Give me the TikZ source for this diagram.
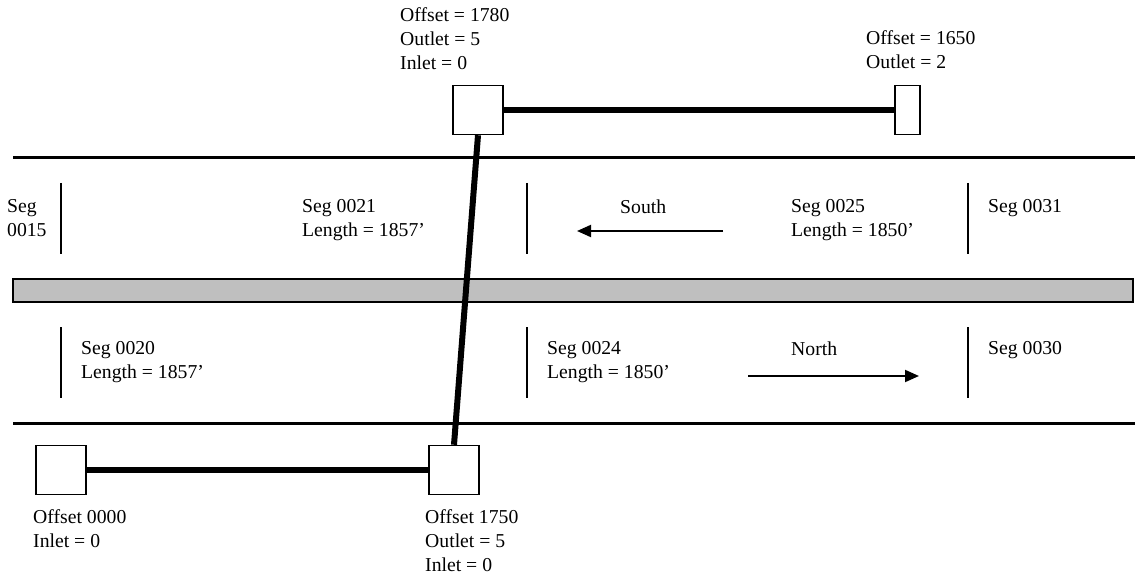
\documentclass[tikz,border=0pt]{standalone}
\usepackage{fontspec}
\setmainfont{Liberation Serif}
\usetikzlibrary{arrows.meta,calc,positioning}

\begin{document}
\begin{tikzpicture}[x=1pt,y=-1pt,
  font=\fontsize{19.7}{24}\selectfont,
  mhole/.style={draw,line width=1.5pt,fill=white,minimum width=50pt,minimum height=49pt,inner sep=0pt},
  mholenarrow/.style={mhole,minimum width=25pt},
  pipe/.style={line width=6pt},
  curb/.style={line width=3pt},
  segtick/.style={line width=1.4pt},
  lbl/.style={anchor=north west,align=left,inner sep=0pt},
  dir/.style={line width=2pt,-{Triangle[length=14pt,width=12pt]}}
]
  \useasboundingbox (0,0) rectangle (1135,577);

  % road
  \draw[curb] (13,158) -- (1135,158);
  \draw[curb] (13,423) -- (1135,423);
  \draw[line width=1.3pt,fill=black!25] (13,279) rectangle (1133,302);
  \foreach \x in {61,527,968} {
    \draw[segtick] (\x,183) -- (\x,254);
    \draw[segtick] (\x,327) -- (\x,398);
  }

  % segment labels
  \node[lbl] (seg15) at (7,199.5) {Seg\\0015};
  \node[lbl] (seg21) at (302,199.5) {Seg 0021\\Length = 1857’};
  \node[lbl] (south) at (620,199.5) {South};
  \node[lbl] (seg25) at (791,199.5) {Seg 0025\\Length = 1850’};
  \node[lbl] (seg31) at (988,199.5) {Seg 0031};
  \node[lbl] (seg20) at (81,341.5) {Seg 0020\\Length = 1857’};
  \node[lbl] (seg24) at (547,341.5) {Seg 0024\\Length = 1850’};
  \node[lbl] (north) at (791,341.5) {North};
  \node[lbl] (seg30) at (988,341.5) {Seg 0030};

  \coordinate (sbeg) at (723,231);
  \coordinate (send) at (577,231);
  \coordinate (nbeg) at (748,376);
  \coordinate (nend) at (919,376);
  \draw[dir] (sbeg) -- (send);
  \draw[dir] (nbeg) -- (nend);

  % manholes and pipes
  \node[mhole] (mh1780) at (478,110) {};
  \node[mholenarrow] (mh1650) at (907.5,110) {};
  \node[mhole] (mh0000) at (61,470) {};
  \node[mhole] (mh1750) at (454,470) {};

  \draw[pipe] (mh1780) -- (mh1650);
  \draw[pipe] (mh0000) -- (mh1750);
  \draw[pipe] (mh1780.south) -- (mh1750.north);

  \node[lbl] (t1780) at (400,7.5) {Offset = 1780\\Outlet = 5\\Inlet = 0};
  \node[lbl] (t1650) at (866,30.5) {Offset = 1650\\Outlet = 2};
  \node[lbl] (t0000) at (33,509.5) {Offset 0000\\Inlet = 0};
  \node[lbl] (t1750) at (425,509.5) {Offset 1750\\Outlet = 5\\Inlet = 0};
\end{tikzpicture}
\end{document}
